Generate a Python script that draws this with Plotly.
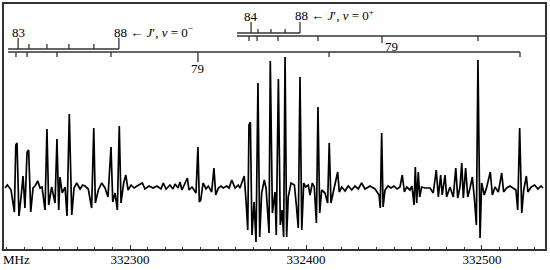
import plotly.graph_objects as go

# spectrum trace (MHz, arbitrary intensity, baseline 0)
freq = [
    332229.0, 332230.3, 332231.2, 332232.4, 332234.3, 332235.1, 332235.8, 332236.9,
    332238.1, 332239.2, 332240.3, 332241.5, 332242.4, 332243.6, 332244.9, 332246.0,
    332247.6, 332248.9, 332250.0, 332251.7, 332252.8, 332253.8, 332255.5, 332257.4,
    332258.5, 332259.5, 332260.2, 332261.5, 332263.1, 332264.2, 332265.5, 332266.9,
    332268.2, 332269.7, 332271.6, 332273.1, 332274.4, 332276.3, 332278.2, 332279.4,
    332280.3, 332282.0, 332283.9, 332285.8, 332287.5, 332289.2, 332290.2, 332291.5,
    332292.8, 332293.9, 332294.9, 332296.4, 332297.6, 332298.9, 332300.6, 332302.3,
    332304.0, 332307.0, 332308.5, 332310.8, 332313.1, 332315.3, 332317.6, 332318.9,
    332320.5, 332322.7, 332324.4, 332325.6, 332327.3, 332328.4, 332329.5, 332331.3,
    332332.6, 332333.5, 332335.2, 332337.5, 332338.6, 332339.4, 332340.2, 332341.5,
    332343.2, 332344.5, 332346.4, 332347.7, 332348.7, 332350.2, 332351.7, 332353.0,
    332354.9, 332356.3, 332357.8, 332359.7, 332361.5, 332362.5, 332364.9, 332365.9,
    332366.9, 332367.6, 332368.4, 332369.3, 332370.5, 332371.6, 332372.7, 332373.7,
    332374.8, 332376.3, 332377.3, 332379.0, 332379.7, 332380.9, 332382.4, 332383.1,
    332384.3, 332385.4, 332386.4, 332387.3, 332388.1, 332389.0, 332389.9, 332391.5,
    332393.4, 332394.5, 332395.6, 332396.6, 332397.6, 332398.7, 332399.8, 332401.3,
    332402.3, 332403.6, 332404.7, 332405.9, 332406.8, 332407.8, 332408.9, 332410.8,
    332412.3, 332413.2, 332414.2, 332415.5, 332418.0, 332418.9, 332420.3, 332422.2,
    332424.0, 332426.0, 332427.8, 332429.7, 332431.6, 332433.5, 332436.4, 332439.2,
    332441.5, 332442.2, 332443.0, 332443.8, 332444.9, 332446.6, 332448.3, 332450.0,
    332451.7, 332453.4, 332454.7, 332455.9, 332457.2, 332459.1, 332460.2, 332461.4,
    332462.1, 332462.9, 332463.8, 332464.6, 332465.7, 332467.6, 332470.5, 332472.3,
    332474.0, 332475.2, 332476.5, 332477.4, 332479.0, 332479.9, 332481.8, 332483.7,
    332485.1, 332486.2, 332487.5, 332488.5, 332489.4, 332490.7, 332491.9, 332493.2,
    332494.5, 332495.6, 332496.8, 332497.7, 332498.9, 332499.8, 332501.3, 332502.7,
    332504.7, 332505.9, 332507.4, 332509.3, 332511.2, 332512.3, 332514.0, 332515.9,
    332517.8, 332519.3, 332520.3, 332521.4, 332522.6, 332523.7, 332525.2, 332526.1,
    332528.0, 332529.9, 332531.8, 332533.5, 332534.7,
]
signal = [
    0, 3, 1, -2, -24, 43, 45, -28,
    -9, 12, -20, 36, 38, -24, 0, 2,
    7, 0, 1, -22, 59, -17, 1, -15,
    49, -22, 11, -5, 1, -28, 74, -27,
    0, 5, -1, 3, 2, -1, -20, 60,
    -15, -2, 5, 0, -9, 41, -14, -5,
    -22, 62, -15, 5, 13, -2, 3, 0,
    2, 5, -1, 2, 0, 2, -1, 5,
    -1, 3, -1, 4, 0, 6, -2, 5,
    10, -2, 1, -5, 41, -14, -12, 5,
    -1, 2, -4, 20, -7, 0, 2, 0,
    2, 0, 8, 0, 3, 0, 12, -12,
    -42, 63, 66, -47, -14, -54, 105, -49,
    -5, 8, 0, -45, 127, -25, -4, -47,
    109, -37, -22, -49, 131, -49, -9, 5,
    3, -17, -40, 111, -42, 5, 1, 3,
    -7, 5, 1, -35, 81, -25, -2, -5,
    -15, 45, -15, -4, 16, -4, 1, -3,
    2, -2, 2, -1, 5, -1, 2, -1,
    -7, -20, 55, -19, -2, 2, 0, 2,
    -1, 1, 13, -4, 1, -2, 2, -17,
    21, -15, 16, -9, 1, 0, 0, -5,
    18, -9, 13, -7, 13, -9, 1, -9,
    20, -10, 1, 25, -10, 20, -9, 0,
    11, -9, -37, 128, -50, 5, -7, 1,
    16, -7, 1, -4, 15, -4, 0, 2,
    0, -2, -22, 60, -25, -2, 12, -4,
    1, 3, -1, 2, 0,
]

tick_vals = [332300, 332400, 332500]
tick_labels = ["332300", "332400", "332500"]

# assignment ladders (line positions in MHz)
lad_minus_up = [332236.4, 332242.6, 332252.8, 332265.3, 332279.5, 332293.7]      # J'' 83..88, v=0-
lad_minus_down = [332235.2, 332241.5, 332258.5, 332289.2, 332338.6, 332413.1, 332521.6]  # 83..77
lad_plus_up = [332368.8, 332372.7, 332380.1, 332388.1, 332396.6]                  # 84..88, v=0+
lad_plus_down = [332367.6, 332372.2, 332384.1, 332406.8, 332443.2, 332497.7]      # 83..78

serif = "Liberation Serif, DejaVu Serif, serif"
ink = "#333333"


def ladder(freqs, base, short, tall, tall_idx, start, end):
    xs, ys = [start, end, None], [base, base, None]
    for i, f in enumerate(freqs):
        xs += [f, f, None]
        ys += [base, tall if i in tall_idx else short, None]
    return xs, ys


fig = go.Figure()
fig.add_trace(go.Scatter(x=freq, y=signal, mode="lines",
                         line=dict(color="black", width=1.7), hoverinfo="skip"))

for xs, ys in [
    ladder(lad_minus_up, 139, 144, 150, [0, 5], 332230.7, lad_minus_up[-1]),
    ladder(lad_minus_down, 136, 131, 126, [4], 332230.7, lad_minus_down[-1]),
    ladder(lad_plus_up, 155, 159, 166, [0, 4], 332360.8, lad_plus_up[-1]),
    ladder(lad_plus_down, 152, 147, 145, [4], 332360.8, 332545),
]:
    fig.add_trace(go.Scatter(x=xs, y=ys, mode="lines",
                             line=dict(color=ink, width=1.3), hoverinfo="skip"))

fnt = dict(family=serif, size=13, color="black")
ann = [
    dict(x=lad_minus_up[0], y=156, text="83", xanchor="center"),
    dict(x=lad_minus_up[-1], y=156, text="88 \u2190 <i>J</i>\u2032, <i>v</i> = 0<sup>\u2212</sup>",
         xanchor="left", xshift=-7),
    dict(x=lad_minus_down[4], y=120, text="79", xanchor="center"),
    dict(x=lad_plus_up[0], y=172, text="84", xanchor="center"),
    dict(x=lad_plus_up[-1], y=173, text="88 \u2190 <i>J</i>\u2032, <i>v</i> = 0<sup>+</sup>",
         xanchor="left", xshift=-7),
    dict(x=lad_plus_down[4], y=142, text="79", xanchor="left", xshift=1),
]
for a in ann:
    fig.add_annotation(xref="x", yref="y", yanchor="middle", showarrow=False, font=fnt, **a)
fig.add_annotation(xref="paper", yref="paper", x=0, y=0, xanchor="left", yanchor="top",
                   xshift=-3, yshift=-1, text="MHz", showarrow=False, font=fnt)

fig.update_layout(
    width=550, height=270,
    margin=dict(l=4, r=5, t=4, b=21, autoexpand=False),
    paper_bgcolor="white", plot_bgcolor="white",
    showlegend=False,
    xaxis=dict(range=[332228.4, 332535.8], tickvals=tick_vals, ticktext=tick_labels,
               ticks="inside", ticklen=4, tickcolor=ink, tickwidth=1.2,
               minor=dict(dtick=10, ticks="inside", ticklen=2.5, tickcolor=ink),
               showline=True, mirror=True, linecolor=ink, linewidth=1.5,
               showgrid=False, zeroline=False, tickfont=fnt, automargin=False,
               ticklabelstandoff=-2),
    yaxis=dict(range=[-61, 184], showticklabels=False, ticks="", automargin=False,
               showline=True, mirror=True, linecolor=ink, linewidth=1.5,
               showgrid=False, zeroline=False),
)

# the page body has a default 8px margin; drop it so the figure fills the window
fig.write_html("out.html", config={"displayModeBar": False},
               post_script="document.body.style.margin='0';")
